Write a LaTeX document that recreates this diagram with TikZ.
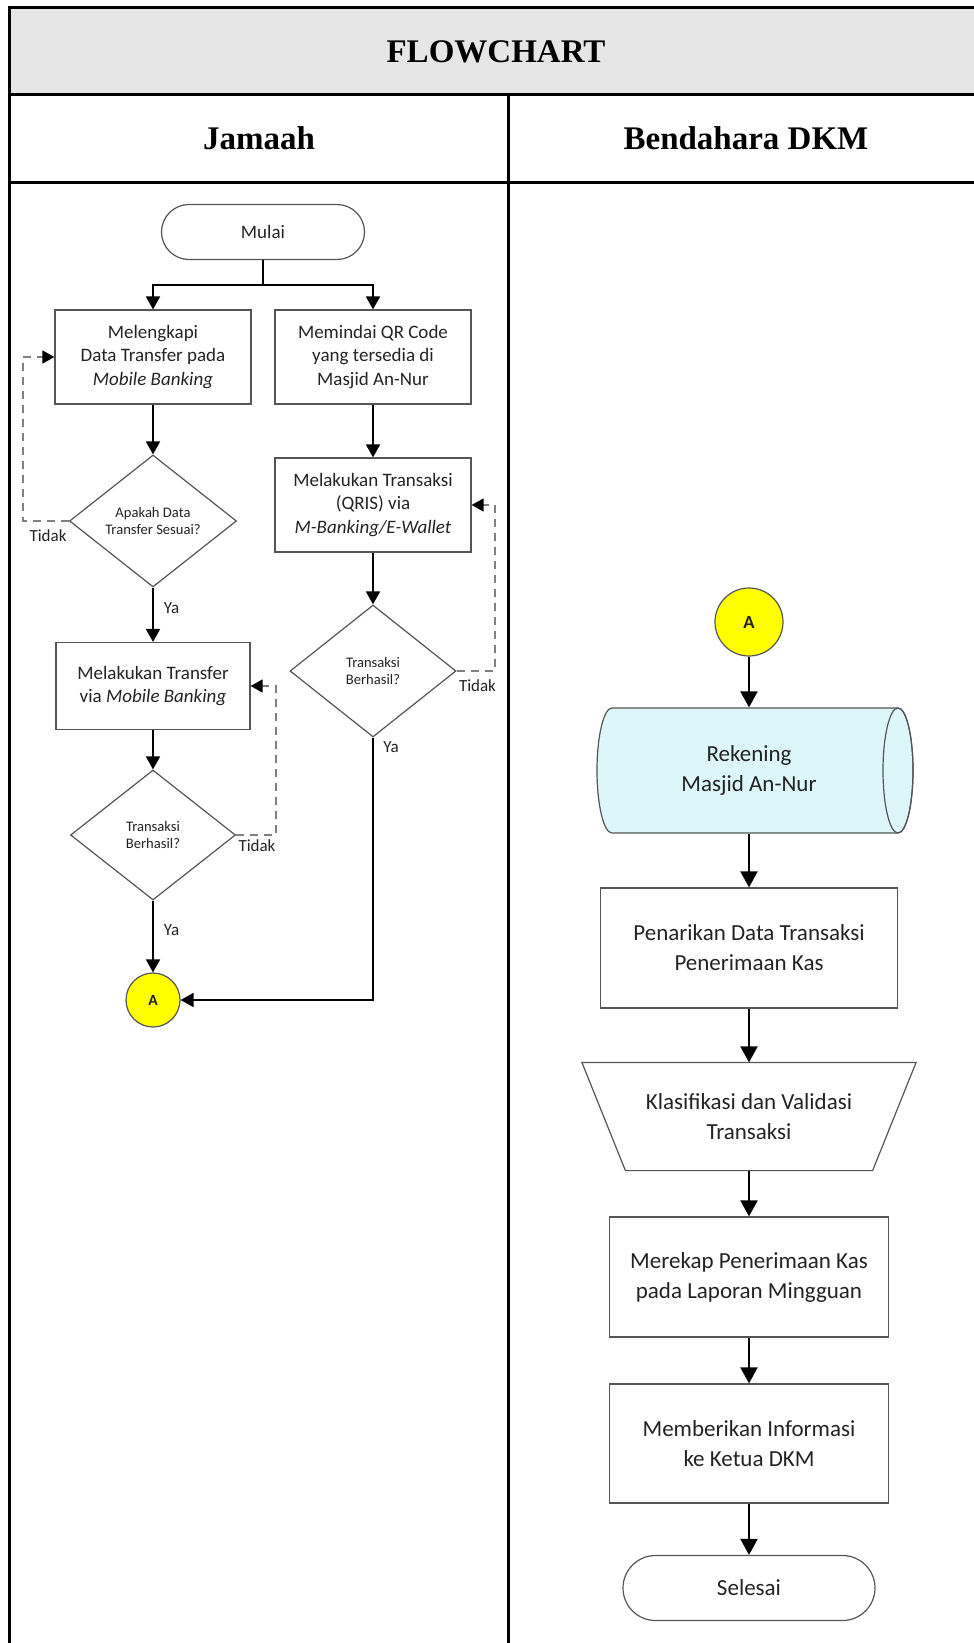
\documentclass[tikz,border=0pt]{standalone}
\usepackage{fontspec}
\setmainfont{Carlito}
\newfontfamily\headfont{Liberation Serif}
\usepackage{tikz}
\usetikzlibrary{shapes.geometric,arrows.meta}
\definecolor{hdrgray}{RGB}{230,230,230}
\definecolor{boxgray}{RGB}{85,85,85}
\definecolor{txtgray}{RGB}{35,35,35}
\definecolor{dbcyan}{RGB}{221,246,250}
\definecolor{conyellow}{RGB}{255,255,0}

\begin{document}
\begin{tikzpicture}[x=0.5pt,y=-0.5pt,
  proc/.style={draw=boxgray, line width=0.6pt, align=center, text=txtgray, font=\fontsize{9.5}{11.75}\selectfont, inner sep=1pt},
  procbig/.style={proc, font=\fontsize{11.5}{15}\selectfont},
  term/.style={proc, rounded corners=13.75pt, minimum width=101.5pt, minimum height=27.5pt},
  decide/.style={diamond, draw=boxgray, line width=0.6pt, align=center, text=txtgray, font=\fontsize{7.3}{8.8}\selectfont, inner sep=0pt},
  conn/.style={circle, draw=boxgray, line width=0.6pt, fill=conyellow, text=txtgray, font=\bfseries\fontsize{7.8}{9}\selectfont, inner sep=0pt},
  flow/.style={line width=0.9pt, -{Triangle[length=6.5pt,width=7pt]}},
  flowbig/.style={line width=1pt, -{Triangle[length=8pt,width=8.5pt]}},
  back/.style={draw=gray, line width=0.7pt, dash pattern=on 4pt off 3pt, -{Triangle[length=6pt,width=6.5pt,color=black]}},
  ans/.style={text=txtgray, font=\fontsize{8.5}{10}\selectfont, inner sep=1pt},
  lane/.style={line width=1.5pt},
  title/.style={font=\headfont\bfseries\fontsize{16.5}{20}\selectfont}
]
\useasboundingbox (0,0) rectangle (974,1643);

\fill[hdrgray] (9,8) rectangle (990,95);
\draw[lane] (990,8) -- (9,8) -- (9,1660);
\draw[lane] (9,95) -- (990,95);
\draw[lane] (9,182) -- (990,182);
\draw[lane] (508,95) -- (508,1660);
\node[title] (judul) at (496,52) {FLOWCHART};
\node[title] (jamaah) at (259,138) {Jamaah};
\node[title] (bendahara) at (746,138) {Bendahara DKM};

\node[term] (mulai) at (263,232) {Mulai};
\node[proc, minimum width=98pt, minimum height=47pt] (lengkap) at (153,357) {Melengkapi\\Data Transfer pada\\\textit{Mobile Banking}};
\node[proc, minimum width=98pt, minimum height=47pt] (pindai) at (373,357) {Memindai QR Code\\yang tersedia di\\Masjid An-Nur};
\node[decide, minimum width=83.5pt, minimum height=66pt] (cekdata) at (153,521) {Apakah Data\\Transfer Sesuai?};
\node[proc, minimum width=98pt, minimum height=47pt] (qris) at (373,505) {Melakukan Transaksi\\(QRIS) via\\\textit{M-Banking/E-Wallet}};
\node[decide, minimum width=83pt, minimum height=66pt] (cekqris) at (373,671) {Transaksi\\Berhasil?};
\node[proc, minimum width=97pt, minimum height=43.5pt] (transfer) at (153,686) {Melakukan Transfer\\via \textit{Mobile Banking}};
\node[decide, minimum width=82.5pt, minimum height=65pt] (cektrf) at (153,835) {Transaksi\\Berhasil?};
\node[conn, minimum size=27pt] (konA) at (153,1000) {A};

\coordinate (cabang) at (263,285);
\draw[line width=0.9pt] (mulai.south) -- (cabang);
\draw[flow] (cabang) -| (lengkap.north);
\draw[flow] (cabang) -| (pindai.north);
\draw[flow] (lengkap) -- (cekdata);
\coordinate (balikA) at (23,521);
\draw[back] (cekdata.west) -- (balikA) |- (lengkap.west);
\node[ans, anchor=north east] (tidakA) at ([yshift=-3pt]cekdata.west) {Tidak};
\draw[flow] (cekdata) -- node[ans, right=4pt, pos=0.38] (yaA) {Ya} (transfer);
\draw[flow] (transfer) -- (cektrf);
\coordinate (balikT) at (276,835);
\draw[back] (cektrf.east) -- (balikT) |- (transfer.east);
\node[ans, anchor=north west] (tidakT) at ([yshift=-1pt]cektrf.east) {Tidak};
\draw[flow] (cektrf) -- node[ans, right=4pt, pos=0.41] (yaT) {Ya} (konA);
\draw[flow] (pindai) -- (qris);
\draw[flow] (qris) -- (cekqris);
\coordinate (balikQ) at (495,671);
\draw[back] (cekqris.east) -- (balikQ) |- (qris.east);
\node[ans, anchor=north west] (tidakQ) at ([yshift=-3pt]cekqris.east) {Tidak};
\coordinate (tekuk) at (373,1000);
\draw[flow] (cekqris.south) -- (tekuk) -- (konA.east);
\node[ans, anchor=north west] (yaQ) at ([xshift=4pt,yshift=-1pt]cekqris.south) {Ya};

\node[conn, minimum size=34pt, font=\bfseries\fontsize{9.3}{11}\selectfont] (konB) at (749,622) {A};
\filldraw[fill=dbcyan, draw=boxgray, line width=0.6pt] (612,708) -- (898,708) arc[start angle=-90, end angle=90, x radius=15, y radius=62.5] -- (612,833) arc[start angle=90, end angle=270, x radius=15, y radius=62.5] -- cycle;
\draw[boxgray, line width=0.6pt] (898,770.5) ellipse [x radius=15, y radius=62.5];
\node[procbig, draw=none, minimum width=150pt, minimum height=62.5pt] (rekening) at (749,770.5) {Rekening\\Masjid An-Nur};
\node[procbig, minimum width=148.5pt, minimum height=60pt] (tarik) at (749,948) {Penarikan Data Transaksi\\Penerimaan Kas};
\node[procbig, draw=none, minimum width=166.5pt, minimum height=53.5pt] (klasifikasi) at (749,1116.5) {Klasifikasi dan Validasi\\Transaksi};
\draw[boxgray, line width=0.6pt] (klasifikasi.north west) -- (klasifikasi.north east) -- ([xshift=-21.75pt]klasifikasi.south east) -- ([xshift=21.75pt]klasifikasi.south west) -- cycle;
\node[procbig, minimum width=139.5pt, minimum height=60pt] (rekap) at (749,1277) {Merekap Penerimaan Kas\\pada Laporan Mingguan};
\node[procbig, minimum width=139.5pt, minimum height=59.5pt] (info) at (749,1443.5) {Memberikan Informasi\\ke Ketua DKM};
\node[procbig, rounded corners=16.25pt, minimum width=126pt, minimum height=32.5pt] (selesai) at (749,1588) {Selesai};

\draw[flowbig] (konB) -- (rekening);
\draw[flowbig] (rekening) -- (tarik);
\draw[flowbig] (tarik) -- (klasifikasi);
\draw[flowbig] (klasifikasi) -- (rekap);
\draw[flowbig] (rekap) -- (info);
\draw[flowbig] (info) -- (selesai);
\end{tikzpicture}
\end{document}
